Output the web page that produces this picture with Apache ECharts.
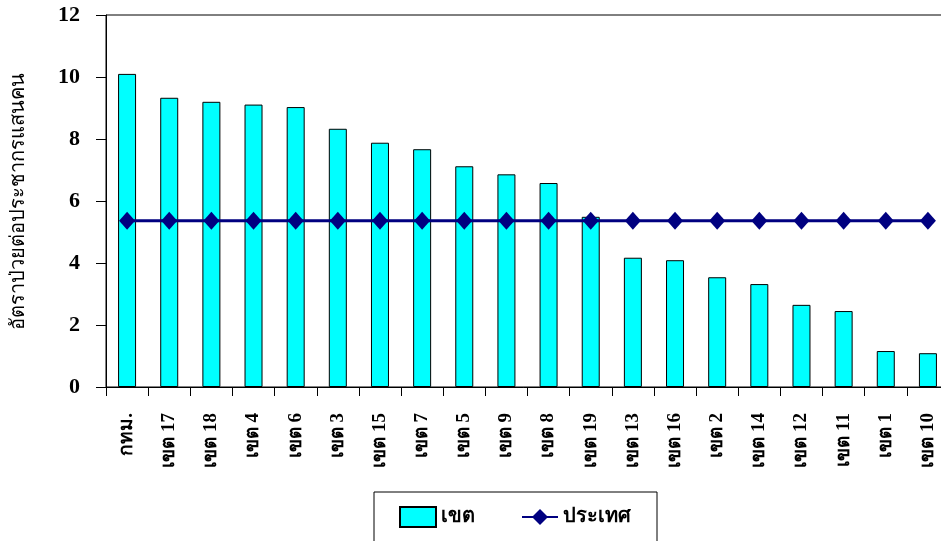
<!DOCTYPE html>
<html>
<head>
<meta charset="utf-8">
<script src="https://cdn.jsdelivr.net/npm/echarts@6/dist/echarts.min.js"></script>
<style>
  html, body { margin: 0; padding: 0; background: #fff; }
  #chart { width: 941px; height: 541px; }
</style>
</head>
<body>
<div id="chart"></div>
<script>
// Disease rate per 100,000 population by health region, with the national rate
const categories = ['กทม.', 'เขต 17', 'เขต 18', 'เขต 4', 'เขต 6', 'เขต 3', 'เขต 15', 'เขต 7', 'เขต 5', 'เขต 9',
  'เขต 8', 'เขต 19', 'เขต 13', 'เขต 16', 'เขต 2', 'เขต 14', 'เขต 12', 'เขต 11', 'เขต 1', 'เขต 10'];
const regionRates = [10.10, 9.33, 9.20, 9.11, 9.03, 8.33, 7.88, 7.67, 7.12, 6.86,
  6.58, 5.49, 4.17, 4.09, 3.54, 3.32, 2.65, 2.45, 1.16, 1.09];
const nationalRate = categories.map(() => 5.36);
const yTicks = { min: 0, max: 12, interval: 2 };

const serif = 'Liberation Serif, Times New Roman, serif';

const chart = echarts.init(document.getElementById('chart'), null, { renderer: 'canvas' });
chart.setOption({
  animation: false,
  backgroundColor: '#ffffff',
  grid: {
    left: 106, right: -8, top: 15, bottom: 154,
    outerBoundsMode: 'none',
    containLabel: false,
    show: true, borderColor: '#000', borderWidth: 1, backgroundColor: 'transparent'
  },
  legend: {
    left: 374, top: 492,
    padding: [14, 26, 30, 25],
    itemGap: 46,
    itemWidth: 36, itemHeight: 20,
    borderColor: '#000', borderWidth: 1,
    textStyle: { fontFamily: serif, fontWeight: 'bold', fontSize: 20, color: '#000' },
    data: [
      { name: 'เขต', icon: 'rect' },
      { name: 'ประเทศ' }
    ]
  },
  xAxis: {
    type: 'category',
    data: categories,
    boundaryGap: true,
    axisLine: { lineStyle: { color: '#000', width: 1 } },
    axisTick: { show: true, length: 9, inside: false, alignWithLabel: false, lineStyle: { color: '#000' } },
    axisLabel: {
      rotate: 90, interval: 0, margin: 26,
      fontFamily: serif, fontWeight: 'bold', fontSize: 19, color: '#000'
    }
  },
  yAxis: {
    type: 'value',
    min: yTicks.min, max: yTicks.max, interval: yTicks.interval,
    name: 'อัตราป่วยต่อประชากรแสนคน',
    nameLocation: 'middle', nameGap: 77, nameRotate: 90,
    nameTextStyle: { fontFamily: serif, fontSize: 20, color: '#000' },
    axisLine: { show: true, lineStyle: { color: '#000', width: 1 } },
    axisTick: { show: true, length: 10, lineStyle: { color: '#000' } },
    splitLine: { show: false },
    axisLabel: { margin: 26, fontFamily: serif, fontWeight: 'bold', fontSize: 22, color: '#000' }
  },
  series: [
    {
      name: 'เขต',
      type: 'bar',
      data: regionRates,
      barWidth: 18,
      itemStyle: { color: '#00ffff', borderColor: '#000', borderWidth: 1 }
    },
    {
      name: 'ประเทศ',
      type: 'line',
      data: nationalRate,
      symbol: 'diamond',
      symbolSize: [16, 18],
      lineStyle: { color: '#000080', width: 3 },
      itemStyle: { color: '#000080' },
      z: 3
    }
  ]
});
</script>
</body>
</html>
